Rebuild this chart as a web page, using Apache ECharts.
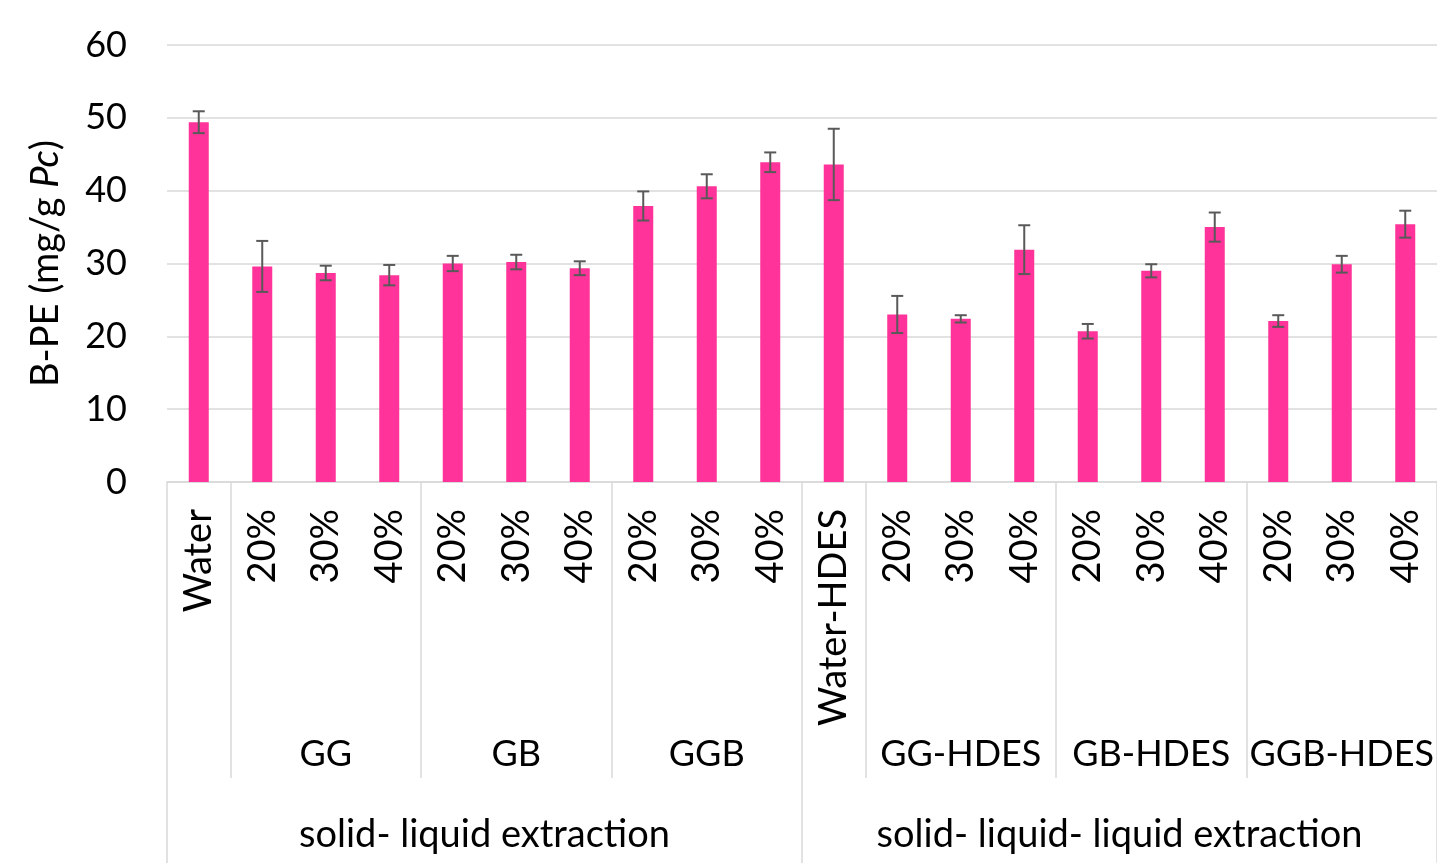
<!DOCTYPE html>
<html>
<head>
<meta charset="utf-8">
<title>B-PE extraction</title>
<style>
  * { margin: 0; padding: 0; }
  body { background: #fff; }
  #chart { width: 1437px; height: 863px; }
</style>
<script src="https://cdn.jsdelivr.net/npm/echarts@6/dist/echarts.min.js"></script>
</head>
<body>
<div id="chart"></div>
<script>
// data
var categories = ['Water', '20%', '30%', '40%', '20%', '30%', '40%', '20%', '30%', '40%',
                  'Water-HDES', '20%', '30%', '40%', '20%', '30%', '40%', '20%', '30%', '40%'];
var groupLabels = ['', '', 'GG', '', '', 'GB', '', '', 'GGB', '',
                   '', '', 'GG-HDES', '', '', 'GB-HDES', '', '', 'GGB-HDES', ''];
// \u200C keeps the font from joining "ti" into a ligature
var methods = ['solid- liquid extrac\u200Ction', 'solid- liquid- liquid extrac\u200Ction'];
var values = [49.4, 29.6, 28.7, 28.4, 30.0, 30.2, 29.35, 37.9, 40.6, 43.9,
              43.6, 23.0, 22.4, 31.9, 20.7, 29.0, 35.0, 22.1, 29.9, 35.4];
var errors = [1.5, 3.5, 1.0, 1.4, 1.05, 1.0, 0.95, 2.0, 1.65, 1.35,
              4.9, 2.55, 0.5, 3.35, 1.0, 0.9, 2.0, 0.8, 1.15, 1.85];
var yTicks = [0, 10, 20, 30, 40, 50, 60];

var FONT = 'Lato';
var SEP = '#d9d9d9';
var groupStarts = [1, 4, 7, 10, 11, 14, 17];   // short separators
var methodStarts = [0, 10];                    // long separators

var errData = values.map(function (v, i) { return [i, v - errors[i], v + errors[i]]; });

var chart = echarts.init(document.getElementById('chart'));
var gridBox = { left: 167, right: 0, top: 45, bottom: 381 };

var option = {
  backgroundColor: '#fff',
  animation: false,
  grid: [
    Object.assign({}, gridBox),
    Object.assign({}, gridBox),
    Object.assign({}, gridBox)
  ],
  xAxis: [
    {
      gridIndex: 0, type: 'category', data: categories,
      axisLine: { lineStyle: { color: SEP, width: 1.5 } },
      axisTick: {
        show: true, length: 296, lineStyle: { color: SEP, width: 1.5 },
        interval: function (idx) { return groupStarts.indexOf(idx) >= 0; }
      },
      axisLabel: {
        interval: 0, rotate: 90, margin: 27,
        fontFamily: FONT, fontSize: 38, color: '#000'
      }
    },
    {
      gridIndex: 1, type: 'category', data: groupLabels,
      axisLine: { show: false },
      axisTick: {
        show: true, length: 381, lineStyle: { color: SEP, width: 1.5 },
        interval: function (idx) { return methodStarts.indexOf(idx) >= 0; }
      },
      axisLabel: {
        interval: 0, margin: 272, verticalAlign: 'middle',
        fontFamily: FONT, fontSize: 36, color: '#000'
      }
    },
    {
      gridIndex: 2, type: 'category', data: methods,
      axisLine: { show: false },
      axisTick: { show: false },
      axisLabel: {
        interval: 0, margin: 353, verticalAlign: 'middle',
        fontFamily: FONT, fontSize: 38, color: '#000'
      }
    }
  ],
  yAxis: [
    {
      gridIndex: 0, type: 'value', min: 0, max: 60, interval: 10,
      axisLine: { show: false },
      axisTick: { show: false },
      splitLine: { lineStyle: { color: SEP, width: 1.5 } },
      axisLabel: {
        margin: 40, fontFamily: FONT, fontSize: 36, color: '#000',
        formatter: function (v) { return yTicks.indexOf(v) >= 0 ? String(v) : ''; }
      },
      name: '{n|B-PE (mg/g }{i|Pc}{n|)}',
      nameLocation: 'middle', nameRotate: 90, nameGap: 102,
      nameTextStyle: {
        rich: {
          n: { fontFamily: FONT, fontSize: 38, color: '#000' },
          i: { fontFamily: FONT, fontSize: 38, color: '#000', fontStyle: 'italic' }
        }
      }
    },
    { gridIndex: 1, type: 'value', min: 0, max: 60, show: false },
    { gridIndex: 2, type: 'value', min: 0, max: 60, show: false }
  ],
  series: [
    {
      type: 'bar', xAxisIndex: 0, yAxisIndex: 0,
      data: values, barWidth: 20,
      itemStyle: { color: '#ff3399' }
    },
    {
      type: 'custom', xAxisIndex: 0, yAxisIndex: 0,
      data: errData, z: 10,
      renderItem: function (params, api) {
        var x = api.value(0);
        var lo = api.coord([x, api.value(1)]);
        var hi = api.coord([x, api.value(2)]);
        var cap = 6;
        var st = { stroke: '#595959', lineWidth: 2 };
        return {
          type: 'group',
          children: [
            { type: 'line', shape: { x1: hi[0], y1: hi[1], x2: lo[0], y2: lo[1] }, style: st },
            { type: 'line', shape: { x1: hi[0] - cap, y1: hi[1], x2: hi[0] + cap, y2: hi[1] }, style: st },
            { type: 'line', shape: { x1: lo[0] - cap, y1: lo[1], x2: lo[0] + cap, y2: lo[1] }, style: st }
          ]
        };
      }
    }
  ]
};

chart.setOption(option);
</script>
</body>
</html>
